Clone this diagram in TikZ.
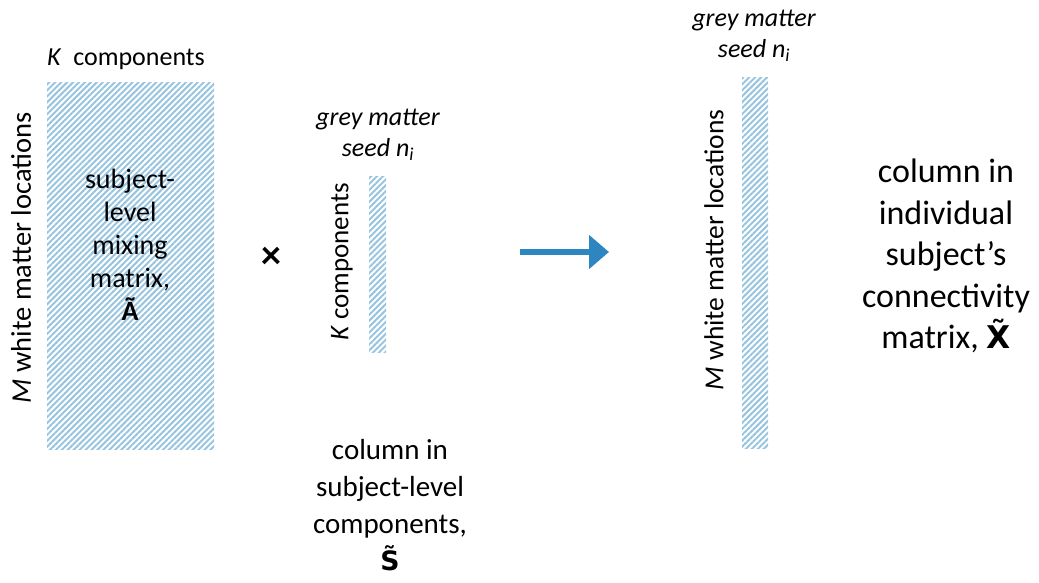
\documentclass[tikz,border=0pt]{standalone}
\usepackage{fontspec}
\setmainfont{Carlito}
\newfontfamily\markfont{DejaVu Sans}[Scale=0.92]
\usetikzlibrary{arrows.meta,patterns.meta}
\definecolor{hatchblue}{RGB}{152,196,223}
\definecolor{arrowblue}{RGB}{46,134,193}
% bold letter carrying a combining tilde
\newcommand{\tildeletter}[1]{{\markfont\bfseries #1\char"0303}}
\tikzset{
  hatchbox/.style={draw=none,inner sep=0pt,outer sep=0pt,
    pattern={Lines[angle=45,distance=4.2pt,line width=2pt]},pattern color=hatchblue},
  lbl/.style={inner sep=0pt,align=center,text=black},
  vlbl/.style={lbl,rotate=90},
}
\begin{document}
\begin{tikzpicture}[x=1pt,y=-1pt]
\useasboundingbox (0,0) rectangle (1039,583);

% matrices drawn as hatched blocks
\node[hatchbox,minimum width=167pt,minimum height=366pt] (A) at (130.5,266) {};
\node[hatchbox,minimum width=17pt,minimum height=175pt] (S) at (377.5,264.5) {};
\node[hatchbox,minimum width=26pt,minimum height=370pt] (X) at (755,263) {};

% left block: mixing matrix
\node[lbl,anchor=base west,font=\fontsize{26}{30}\selectfont] (Kc) at (47,66) {\textit{K}\ \ components};
\node[vlbl,font=\fontsize{28.5}{30}\selectfont] (Mleft) at (21,258) {\textit{M} white matter locations};
\node[lbl,font=\fontsize{28}{33}\selectfont] (Atext) at (130,245) {subject-\\level\\mixing\\matrix,\\\textbf{\~A}};

\node[lbl,font=\bfseries\fontsize{40}{40}\selectfont] (times) at (271,258) {×};

% middle column: subject-level component
\node[lbl,font=\itshape\fontsize{26}{31}\selectfont] (seedS) at (378,135) {grey matter\\seed \textit{n}\textsubscript{\textit{i}}};
\node[vlbl,font=\fontsize{27}{30}\selectfont] (Kv) at (342,262) {\textit{K} components};
\node[lbl,font=\fontsize{29}{37}\selectfont] (Stext) at (390,505) {column in\\subject-level\\components,\\\tildeletter{S}};

% arrow
\coordinate (arrS) at (520,252);
\coordinate (arrE) at (609,252);
\draw[arrowblue,line width=6pt,-{Triangle[length=20pt,width=33pt]}] (arrS) -- (arrE);

% right column: individual connectivity
\node[lbl,font=\itshape\fontsize{26}{31}\selectfont] (seedX) at (754,36) {grey matter\\seed \textit{n}\textsubscript{\textit{i}}};
\node[vlbl,font=\fontsize{27.5}{30}\selectfont] (Mright) at (714,250) {\textit{M} white matter locations};
\node[lbl,font=\fontsize{34}{41.5}\selectfont] (Xtext) at (946,256) {column in\\individual\\subject’s\\connectivity\\matrix, \tildeletter{X}};
\end{tikzpicture}
\end{document}
